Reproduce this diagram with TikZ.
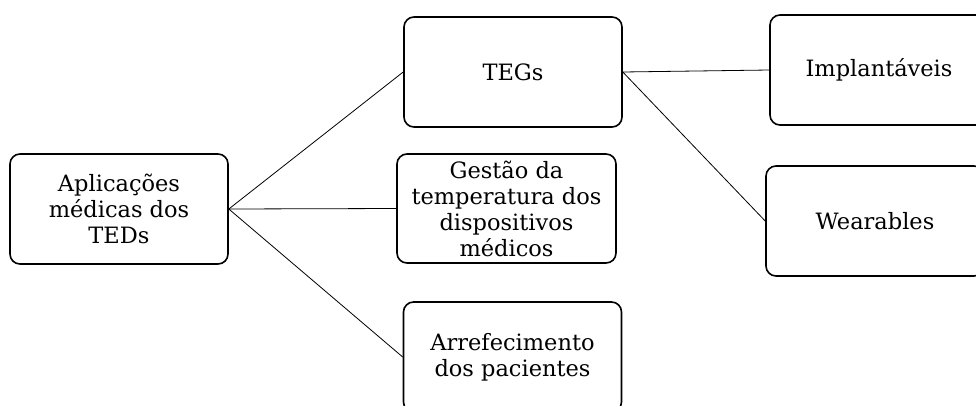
\documentclass[tikz,border=0pt]{standalone}
\usepackage{fontspec}
\setmainfont{DejaVu Serif}
\begin{document}
\begin{tikzpicture}[x=1pt,y=-1pt,
  box/.style={draw, line width=1.6pt, rounded corners=10pt, minimum width=218pt, minimum height=110pt, align=center, inner sep=0pt, font=\fontsize{22.5}{26}\selectfont},
  link/.style={line width=0.8pt}]
\clip (0,0) rectangle (976,405);
\fill[white] (0,0) rectangle (976,405);
\node[box] (A) at (119,209) {Aplicações\\médicas dos\\TEDs};
\node[box] (T) at (513,72) {TEGs};
\node[box, minimum width=219pt, minimum height=109pt] (G) at (506.5,208.5) {Gestão da\\temperatura dos\\dispositivos\\médicos};
\node[box] (R) at (512.5,357) {Arrefecimento\\dos pacientes};
\node[box] (I) at (879,70) {Implantáveis};
\node[box] (W) at (875,221) {Wearables};
\draw[link] (A.east) -- (T.west);
\draw[link] (A.east) -- (G.west);
\draw[link] (A.east) -- (R.west);
\draw[link] (T.east) -- (I.west);
\draw[link] (T.east) -- (W.west);
\end{tikzpicture}
\end{document}
